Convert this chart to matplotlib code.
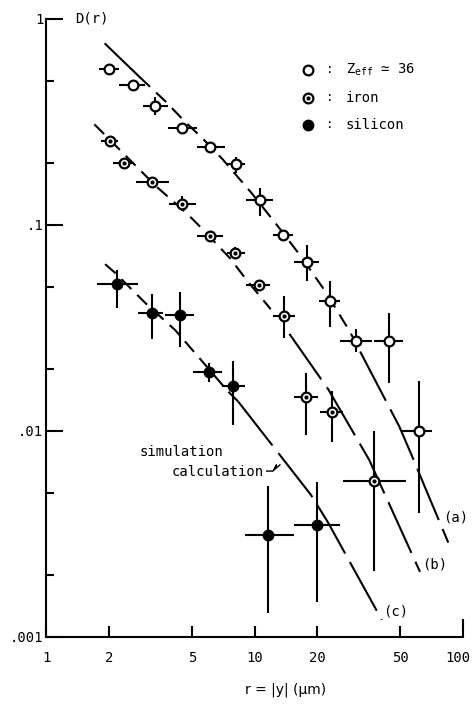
import matplotlib
matplotlib.use('Agg')
import matplotlib.pyplot as plt
import numpy as np
from matplotlib.ticker import FixedLocator, NullFormatter, LogLocator
from matplotlib.transforms import offset_copy, ScaledTranslation

plt.rcParams['font.family'] = ['DejaVu Sans Mono', 'DejaVu Sans']
plt.rcParams['mathtext.fontset'] = 'custom'
plt.rcParams['mathtext.rm'] = 'DejaVu Sans Mono'
plt.rcParams['lines.scale_dashes'] = False

# Z_eff = 36 (open circles)
z_x = [2.01, 2.62, 3.33, 4.51, 6.12, 8.15, 10.6, 13.7, 17.9, 23.0, 30.7, 44.3, 61.7]
z_xlo = [1.80, 2.25, 2.93, 3.86, 5.28, 7.35, 9.1, 12.2, 15.5, 20.4, 25.7, 37.4, 50.8]
z_xhi = [2.24, 2.98, 3.86, 5.27, 7.21, 9.0, 12.3, 15.3, 20.4, 25.7, 36.4, 51.7, 71.3]
z_y = [0.572, 0.478, 0.378, 0.297, 0.239, 0.197, 0.132, 0.0897, 0.0664, 0.0428, 0.0273, 0.0273, 0.0100]
z_ylo = [0.572, 0.478, 0.342, 0.297, 0.239, 0.178, 0.110, 0.0897, 0.0537, 0.0320, 0.0241, 0.0171, 0.0040]
z_yhi = [0.572, 0.478, 0.416, 0.297, 0.239, 0.214, 0.152, 0.0897, 0.0798, 0.0537, 0.0311, 0.0372, 0.0174]

# iron (dotted circles)
fe_x = [2.03, 2.37, 3.21, 4.48, 6.12, 8.07, 10.5, 13.85, 17.7, 23.5, 37.4]
fe_xlo = [1.84, 2.10, 2.69, 3.89, 5.28, 7.41, 9.15, 12.3, 15.5, 20.6, 26.6]
fe_xhi = [2.22, 2.64, 3.89, 5.22, 7.03, 9.0, 11.9, 15.6, 20.2, 26.6, 53.0]
fe_y = [0.256, 0.201, 0.162, 0.127, 0.0884, 0.0734, 0.0511, 0.0363, 0.01468, 0.0124, 0.00574]
fe_ylo = [0.256, 0.201, 0.155, 0.117, 0.0884, 0.069, 0.0511, 0.0284, 0.00951, 0.00887, 0.0021]
fe_yhi = [0.256, 0.201, 0.170, 0.138, 0.0884, 0.078, 0.0511, 0.0451, 0.0192, 0.0157, 0.00996]

# silicon (filled circles)
si_x = [2.20, 3.21, 4.39, 6.05, 7.92, 11.65, 20.0]
si_xlo = [1.75, 2.77, 3.72, 5.09, 7.0, 9.0, 15.5]
si_xhi = [2.75, 3.63, 5.14, 7.0, 9.0, 15.5, 25.7]
si_y = [0.0515, 0.0373, 0.0366, 0.0194, 0.0165, 0.00313, 0.0035]
si_ylo = [0.0395, 0.0279, 0.0255, 0.0172, 0.0107, 0.0013, 0.00148]
si_yhi = [0.0605, 0.0460, 0.0474, 0.0213, 0.0218, 0.0054, 0.00565]

# simulation curves (a), (b), (c)
a_x = [1.925, 2.82, 3.75, 4.56, 5.68, 7.04, 9.70, 13.0, 16.5, 21.8, 28.7, 32.1, 49.5, 58.0, 65.7, 85.0]
a_y = [0.756, 0.521, 0.397, 0.323, 0.261, 0.208, 0.1425, 0.098, 0.0715, 0.0478, 0.0303, 0.0243,
       0.0105, 0.00723, 0.00533, 0.00287]
b_x = [1.705, 3.40, 4.08, 4.73, 5.68, 7.63, 9.17, 11.96, 14.7, 22.6, 35.5, 62.2]
b_y = [0.308, 0.153, 0.130, 0.114, 0.0946, 0.0689, 0.054, 0.039, 0.0296, 0.0159, 0.00723, 0.00207]
c_x = [1.92, 2.14, 2.98, 4.16, 5.72, 7.36, 8.36, 18.66, 22.4, 40.8]
c_y = [0.0645, 0.0587, 0.042, 0.0309, 0.0213, 0.0158, 0.01387, 0.00489, 0.00363, 0.00121]

x_ticks = [1, 2, 5, 10, 20, 50, 100]
x_ticklabels = ['1', '2', '5', '10', '20', '50', '100']
y_ticks = [0.001, 0.01, 0.1, 1]
y_ticklabels = ['.001', '.01', '.1', '1']

fig = plt.figure(figsize=(4.73, 7.05), dpi=100)
ax = fig.add_axes([0.0973, 0.0965, 0.8816, 0.8766])
ax.set_xscale('log')
ax.set_yscale('log')
ax.set_xlim(1, 100)
ax.set_ylim(0.001, 1)

lw = 1.5


def draw_curve(xs, ys, dashed_end, tail_start, first_solid=None):
    xs = np.array(xs)
    ys = np.array(ys)
    start = 0
    if first_solid is not None:
        ax.plot(xs[:first_solid + 1], ys[:first_solid + 1], color='k', lw=lw)
        start = first_solid
    ax.plot(xs[start:dashed_end + 1], ys[start:dashed_end + 1], color='k', lw=lw,
            dashes=(10, 6))
    ax.plot(xs[tail_start:], ys[tail_start:], color='k', lw=lw, dashes=(40, 7))


draw_curve(a_x, a_y, 11, 11, first_solid=1)
draw_curve(b_x, b_y, 7, 8)
draw_curve(c_x, c_y, 6, 6)


def err(v, lo, hi):
    v, lo, hi = np.array(v), np.array(lo), np.array(hi)
    return [v - lo, hi - v]


ekw = dict(fmt='none', ecolor='k', elinewidth=lw, capsize=0, zorder=3)
ax.errorbar(z_x, z_y, xerr=err(z_x, z_xlo, z_xhi), yerr=err(z_y, z_ylo, z_yhi), **ekw)
ax.errorbar(fe_x, fe_y, xerr=err(fe_x, fe_xlo, fe_xhi), yerr=err(fe_y, fe_ylo, fe_yhi), **ekw)
ax.errorbar(si_x, si_y, xerr=err(si_x, si_xlo, si_xhi), yerr=err(si_y, si_ylo, si_yhi), **ekw)

ax.plot(z_x, z_y, 'o', ms=7, mfc='white', mec='k', mew=1.6, zorder=4)
ax.plot(fe_x, fe_y, 'o', ms=7, mfc='white', mec='k', mew=1.6, zorder=4)
ax.plot(fe_x, fe_y, 'o', ms=2, mfc='k', mec='k', zorder=5)
ax.plot(si_x, si_y, 'o', ms=7.5, mfc='k', mec='k', zorder=4)

# axes styling
for s in ['top', 'right']:
    ax.spines[s].set_visible(False)
for s in ['left', 'bottom']:
    ax.spines[s].set_linewidth(1.5)

ax.xaxis.set_major_locator(FixedLocator(x_ticks))
ax.set_xticklabels(x_ticklabels)
ax.xaxis.set_minor_locator(FixedLocator([]))
ax.tick_params(axis='x', which='major', direction='in', length=8, width=1.5,
               labelsize=10, pad=10)
last_tick = ax.xaxis.get_major_ticks()[-1]
last_tick.tick1line.set_markersize(13)
last_tick.label1.set_transform(last_tick.label1.get_transform()
                               + ScaledTranslation(-4 / 72, 0, fig.dpi_scale_trans))

ax.yaxis.set_major_locator(FixedLocator(y_ticks))
ax.set_yticklabels(y_ticklabels)
ax.yaxis.set_minor_locator(LogLocator(base=10, subs=[2, 5]))
ax.yaxis.set_minor_formatter(NullFormatter())
ax.tick_params(axis='y', which='major', direction='in', length=12, width=1.5,
               labelsize=10, pad=2)
ax.tick_params(axis='y', which='minor', direction='in', length=6, width=1.5)

ax.text(0.069, 1.0, 'D(r)', transform=ax.transAxes, ha='left', va='center', fontsize=10)
fig.text(0.603, 0.021, 'r = |y| (\u03bcm)', ha='center', va='center', fontsize=10,
         family=['DejaVu Sans', 'DejaVu Sans Mono'])

# legend
leg_y = [0.9175, 0.8727, 0.8285]
leg_labels = ['Z$_{\\mathrm{eff}}$ \u2243 36', 'iron', 'silicon']
ax.plot([0.6276], [leg_y[0]], 'o', ms=7, mfc='white', mec='k', mew=1.6, transform=ax.transAxes)
ax.plot([0.6276], [leg_y[1]], 'o', ms=7, mfc='white', mec='k', mew=1.6, transform=ax.transAxes)
ax.plot([0.6276], [leg_y[1]], 'o', ms=2, mfc='k', mec='k', transform=ax.transAxes)
ax.plot([0.6276], [leg_y[2]], 'o', ms=7.5, mfc='k', mec='k', transform=ax.transAxes)
for yy, lab in zip(leg_y, leg_labels):
    ax.text(0.681, yy, ':', transform=ax.transAxes, ha='center', va='center', fontsize=9)
    ax.text(0.7194, yy, lab, transform=ax.transAxes, ha='left', va='center', fontsize=10)

# curve labels
ax.text(80.5, 0.00382, '(a)', ha='left', va='center', fontsize=10)
ax.text(63.4, 0.00226, '(b)', ha='left', va='center', fontsize=10)
ax.text(41.5, 0.00133, '(c)', ha='left', va='center', fontsize=10)

ax.text(2.80, 0.00793, 'simulation', ha='left', va='center', fontsize=10)
ax.text(4.01, 0.00634, 'calculation', ha='left', va='center', fontsize=10)

# zigzag pointer from the text to curve (c)
anchor = (13.55, 0.0074)
tr = offset_copy(ax.transData, fig=fig, x=0, y=0, units='points')
zz_dx = [-11, -6.5, -4, -5.5, -1.5]
zz_dy = [-9.5, -9.5, -5, -8.5, -5]
pts = [tr.transform(anchor) + np.array([dx, dy]) * fig.dpi / 72 for dx, dy in zip(zz_dx, zz_dy)]
pts = np.array(pts)
ax.plot(pts[:, 0], pts[:, 1], color='k', lw=1.0, transform=None)

fig.savefig('out.png', dpi=100)
